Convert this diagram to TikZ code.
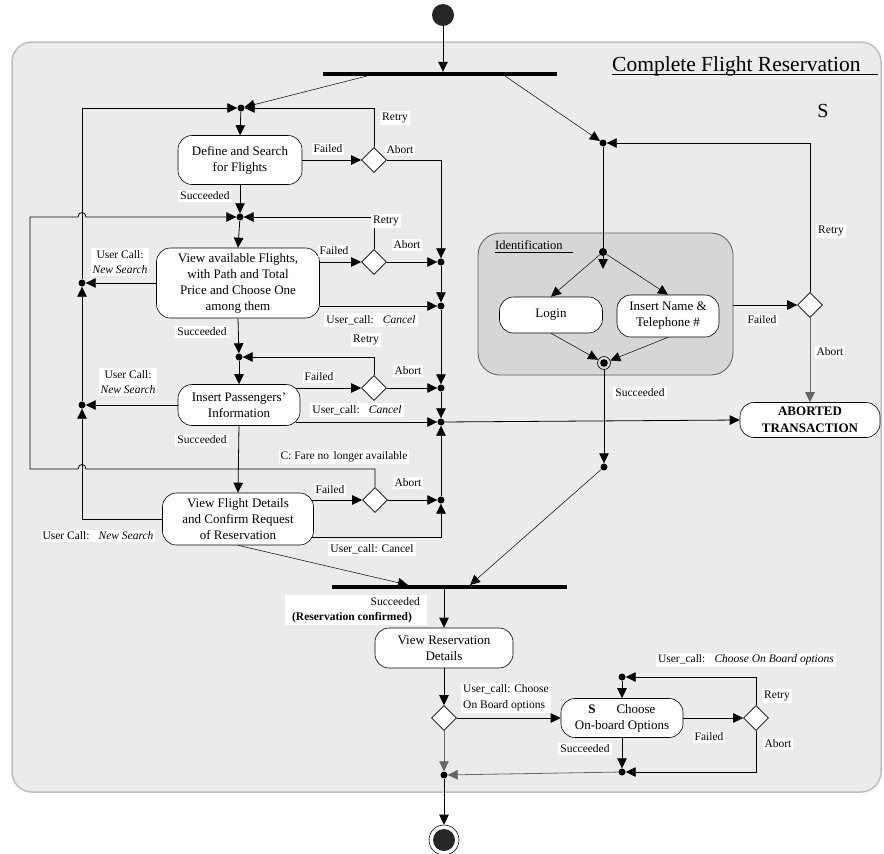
\documentclass[tikz,border=0pt]{standalone}
\usepackage{fontspec}
\setmainfont{Liberation Serif}
\usetikzlibrary{arrows.meta,shapes.geometric,calc}

\definecolor{panelbg}{RGB}{235,235,235}
\definecolor{panelline}{RGB}{190,190,190}
\definecolor{subbg}{RGB}{214,214,214}
\definecolor{subline}{RGB}{90,90,90}

\begin{document}
\begin{tikzpicture}[x=1pt,y=-1pt,
  act/.style={draw, fill=white, rounded corners=14pt, align=center, inner sep=0pt,
              font=\fontsize{13}{16}\selectfont, line width=0.6pt},
  lbl/.style={fill=white, inner sep=2pt, font=\fontsize{11.5}{14}\selectfont},
  dec/.style={draw, diamond, fill=white, minimum width=25pt, minimum height=25pt,
              inner sep=0pt, line width=0.6pt},
  mrg/.style={circle, fill=black, minimum size=7pt, inner sep=0pt},
  bar/.style={rectangle, fill=black, minimum height=4pt, inner sep=0pt},
  arr/.style={-{Triangle[length=10pt,width=9.5pt]}, line width=0.8pt},
  thin arr/.style={-{Triangle[length=10pt,width=9.5pt]}, line width=0.5pt},
]
\useasboundingbox (0,0) rectangle (884,854);

% outer composite state
\draw[panelline, fill=panelbg, line width=1.5pt, rounded corners=20pt] (12,42) rectangle (881,792);
\node[anchor=base west, font=\fontsize{21.5}{24}\selectfont, inner sep=0pt] (title) at (612,71) {Complete Flight Reservation};
\draw[line width=0.7pt] (612,74.5) -- (878,74.5);
\node[font=\fontsize{20}{24}\selectfont] (sflag) at (823,111) {S};

% initial / final states and synchronisation bars
\node[circle, fill=black!85, minimum size=22pt, inner sep=0pt] (start) at (443,15) {};
\node[bar, minimum width=234pt] (bar1) at (440,74) {};
\node[bar, minimum width=235pt] (bar2) at (449.5,587) {};
\node[circle, draw, minimum size=30pt, inner sep=0pt, line width=0.6pt,
      path picture={\fill[black!85] (path picture bounding box.center) circle (11pt);}] (end) at (444,840) {};
\coordinate (b1l) at (367,76);
\coordinate (b1r) at (505,76);
\coordinate (b2l) at (408,585);
\coordinate (b2r) at (470,585);

% identification sub-state
\node[draw=subline, fill=subbg, rounded corners=22pt, minimum width=255pt, minimum height=142pt,
      line width=0.8pt, inner sep=0pt] (ident) at (605.5,304) {};
\node[anchor=base west, font=\fontsize{12.5}{15}\selectfont, inner sep=0pt] (identlbl) at (495,249) {Identification};
\draw[line width=0.6pt] (495,252) -- (573,252);

% activities
\node[act, minimum width=124pt, minimum height=49pt] (A1) at (240,160) {Define and Search\\for Flights};
\node[act, minimum width=163pt, minimum height=70pt] (A2) at (238,283) {View available Flights,\\with Path and Total\\Price and Choose One\\among them};
\node[act, minimum width=122pt, minimum height=41pt] (A3) at (239,405) {Insert Passengers'\\Information};
\node[act, minimum width=151pt, minimum height=52pt] (A4) at (238,519) {View Flight Details\\and Confirm Request\\of Reservation};
\node[act, minimum width=138pt, minimum height=40pt] (A5) at (444,648) {View Reservation\\Details};
\node[act, minimum width=122pt, minimum height=39pt] (A6) at (622,718) {\textbf{S}\hspace{1.6em}Choose\\On-board Options};
\node[act, minimum width=103pt, minimum height=36pt] (login) at (551,315) {Login};
\node[act, minimum width=102pt, minimum height=42pt] (insert) at (668,316) {Insert Name \&\\Telephone \#};
\node[act, minimum width=140pt, minimum height=35pt, font=\bfseries\fontsize{13}{17}\selectfont] (abort) at (810,420) {ABORTED\\TRANSACTION};

% decisions
\node[dec] (d1) at (374,160) {};
\node[dec] (d2) at (374,262) {};
\node[dec] (d3) at (374,388) {};
\node[dec] (d4) at (375,500) {};
\node[dec] (d5) at (444,718) {};
\node[dec] (d6) at (756,718) {};
\node[dec] (d7) at (810,305) {};

% merge points
\node[mrg] (m1) at (241,108) {};
\node[mrg] (m2) at (240,217) {};
\node[mrg] (m3) at (239,357) {};
\node[mrg] (mL1) at (82,283) {};
\node[mrg] (mL2) at (82,405) {};
\node[mrg] (mr1) at (441,262) {};
\node[mrg] (mr2) at (441,306) {};
\node[mrg] (mr3) at (441,388) {};
\node[mrg] (mr4) at (441,422) {};
\node[mrg] (mr5) at (441,500) {};
\node[mrg] (mR1) at (603,143) {};
\node[mrg] (mR2) at (604,467) {};
\node[mrg] (mb1) at (444,775) {};
\node[mrg] (mb2) at (622,772) {};
\node[mrg] (mt) at (622,677) {};
\node[mrg, minimum size=8pt] (iDot) at (603,252) {};
\coordinate (iArr) at (603,269);
\node[circle, draw, minimum size=13pt, inner sep=0pt, line width=0.6pt,
      path picture={\fill (path picture bounding box.center) circle (3.8pt);}] (iEnd) at (604,363) {};

% start and fork
\draw[arr] (start) -- (start |- bar1.north);
\draw[thin arr] (b1l) -- (m1);
\draw[thin arr] (b1r) -- (mR1);

% search flights
\draw[arr] (m1) -- (A1.north);
\draw[arr] (A1.east) -- (d1.west);
\draw[arr] (d1.north) |- (m1);
\draw[arr] (d1.east) -| (mr1);
\draw[arr] (A1.south) -- (m2);

% view available flights
\draw[arr] (m2) -- (A2.north);
\draw[arr] (A2.east |- d2) -- (d2.west);
\draw[arr] (d2.north) |- (m2);
\draw[arr] (d2.east) -- (mr1);
\draw[arr] (A2.east |- mr2) -- (mr2);
\draw[arr] (A2.west) -- (mL1);
\draw[arr] (A2.south) -- (m3);

% insert passengers
\draw[arr] (m3) -- (A3.north);
\draw[arr] ($(A3.east |- d3)+(-4,0)$) -- (d3.west);
\draw[arr] (d3.north) |- (m3);
\draw[arr] (d3.east) -- (mr3);
\draw[arr] ($(A3.east |- mr4)+(-4,0)$) -- (mr4);
\draw[arr] (A3.west) -- (mL2);
\draw[arr] (A3.south) -- (A4.north);

% view flight details
\draw[arr] ($(A4.east |- d4)+(-2,0)$) -- (d4.west);
\draw[arr] (d4.east) -- (mr5);
\draw[arr] ($(A4.south east)+(-3,-8)$) -| (mr5);
\draw[arr] (A4.west) -| (mL2);
\draw[arr] (d4.north) |- (86,469) .. controls (86,463) and (78,463) .. (78,469) -- (30,469)
  -- (30,217) -- (78,217) .. controls (78,211) and (86,211) .. (86,217) -- (m2);

% new search return line
\draw[arr] (mL2) -- (mL1);
\draw[arr] (mL1) |- (m1);

% cancel / abort collector
\draw[arr] (mr1) -- (mr2);
\draw[arr] (mr2) -- (mr3);
\draw[arr] (mr3) -- (mr4);
\draw[arr] (mr5) -- (mr4);
\draw[arr] (mr4) -- (abort.west);

% identification
\draw[arr] (d7.north) |- (mR1);
\draw[line width=0.8pt] (mR1) -- (iDot);
\draw[arr] (iDot) -- (iArr);
\draw[thin arr] (iDot) -- (login.north);
\draw[thin arr] (iDot) -- (insert.north);
\draw[thin arr] (login.south) -- (iEnd);
\draw[thin arr] (insert.south) -- (iEnd);
\draw[arr] (iEnd) -- (mR2);
\draw[arr] (ident.east |- d7) -- (d7.west);
\draw[arr, black!60] (d7.south) -- (abort.north);

% join
\draw[thin arr] (A4.south) -- (b2l);
\draw[thin arr] (mR2) -- (b2r);

% reservation details and on-board options
\draw[arr] (A5.north |- bar2.south) -- (A5.north);
\draw[arr] (A5.south) -- (d5.north);
\draw[arr] (d5.east) -- (A6.west);
\draw[arr, black!60] (d5.south) -- (mb1);
\draw[arr, black!60] (mb2) -- (mb1);
\draw[arr] (A6.east) -- (d6.west);
\draw[arr] (d6.north) |- (mt);
\draw[arr] (mt) -- (A6.north);
\draw[arr] (d6.south) |- (mb2);
\draw[arr] (A6.south) -- (mb2);
\draw[arr] (mb1) -- (end);

% guard labels
\node[lbl] (l01) at (395,118) {Retry};
\node[lbl] (l02) at (328,149) {Failed};
\node[lbl] (l03) at (400,150) {Abort};
\node[lbl] (l04) at (205,196) {Succeeded};
\node[lbl] (l05) at (386,221) {Retry};
\node[lbl, align=center, font=\fontsize{11.5}{15}\selectfont] (l06) at (120,262) {User Call:\\\textit{New Search}};
\node[lbl] (l07) at (334,251) {Failed};
\node[lbl] (l08) at (407,245) {Abort};
\node[lbl] (l09) at (371,320) {User\_call:\hspace{0.8em}\textit{Cancel}};
\node[lbl] (l10) at (202,332) {Succeeded};
\node[lbl] (l11) at (366,340) {Retry};
\node[lbl, align=center, font=\fontsize{11.5}{15}\selectfont] (l12) at (128,382) {User Call:\\\textit{New Search}};
\node[lbl] (l13) at (319,377) {Failed};
\node[lbl] (l14) at (408,371) {Abort};
\node[lbl] (l15) at (357,410) {User\_call:\hspace{0.8em}\textit{Cancel}};
\node[lbl] (l16) at (202,440) {Succeeded};
\node[lbl] (l17) at (344,457) {C: Fare no\hspace{0.4em}longer available};
\node[lbl] (l18) at (330,490) {Failed};
\node[lbl] (l19) at (408,483) {Abort};
\node[lbl] (l20) at (372,549) {User\_call: Cancel};
\node[lbl] (l21) at (98,536) {User Call:\hspace{0.8em}\textit{New Search}};
\node[lbl, align=right, font=\fontsize{11.5}{15}\selectfont, minimum width=142pt] (l22) at (356,610)
  {Succeeded\\\textbf{(Reservation confirmed)}\hspace*{8pt}};
\node[lbl, align=left, font=\fontsize{11.5}{16}\selectfont] (l23) at (506,698) {User\_call: Choose\\On Board options};
\node[lbl] (l24) at (746,660) {User\_call:\hspace{0.8em}\textit{Choose On Board options}};
\node[lbl] (l25) at (777,696) {Retry};
\node[lbl] (l26) at (709,737) {Failed};
\node[lbl] (l27) at (778,744) {Abort};
\node[lbl] (l28) at (585,749) {Succeeded};
\node[lbl] (l29) at (640,393) {Succeeded};
\node[lbl] (l30) at (762,320) {Failed};
\node[lbl] (l31) at (830,352) {Abort};
\node[lbl] (l32) at (831,231) {Retry};
\end{tikzpicture}
\end{document}
